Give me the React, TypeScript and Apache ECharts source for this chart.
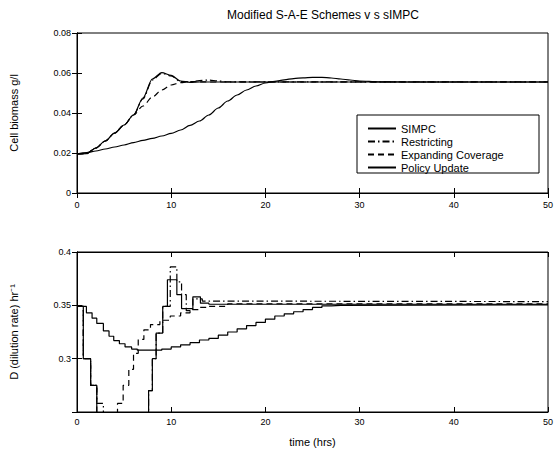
import React, { useEffect, useRef } from "react";
import * as echarts from "echarts";

const TITLE = "Modified S-A-E Schemes v s sIMPC";
const SERIES_NAMES = ["SIMPC", "Restricting", "Expanding Coverage", "Policy Update"];
const X_TICKS = [0, 10, 20, 30, 40, 50];
const TOP_Y_TICKS = [0, 0.02, 0.04, 0.06, 0.08];
const BOTTOM_Y_TICKS = [0.25, 0.3, 0.35, 0.4];

// Top plot: biomass
const tTop = [0, 1, 2, 3, 4, 5, 6, 7, 8, 9, 10, 11, 12, 13, 14, 15, 16, 17, 18, 19, 20, 21, 22, 23, 24, 25, 26, 27, 28, 29, 30, 32, 35, 40, 45, 50];
const topSimpc = [0.0195, 0.0197, 0.0225, 0.026, 0.030, 0.034, 0.039, 0.0475, 0.057, 0.0602, 0.0588, 0.056, 0.0553, 0.0555, 0.0555, 0.0555, 0.0555, 0.0555, 0.0555, 0.0555, 0.0555, 0.0555, 0.0555, 0.0555, 0.0555, 0.0555, 0.0555, 0.0555, 0.0555, 0.0555, 0.0555, 0.0555, 0.0555, 0.0555, 0.0555, 0.0555];
const topRestricting = [0.0195, 0.0197, 0.0225, 0.026, 0.030, 0.034, 0.039, 0.047, 0.0565, 0.0598, 0.0585, 0.0557, 0.0556, 0.0562, 0.0565, 0.056, 0.0556, 0.0556, 0.0556, 0.0556, 0.0556, 0.0556, 0.0556, 0.0556, 0.0556, 0.0556, 0.0556, 0.0556, 0.0556, 0.0556, 0.0556, 0.0556, 0.0556, 0.0556, 0.0556, 0.0556];
const topExpanding = [0.0195, 0.0197, 0.0225, 0.026, 0.030, 0.034, 0.039, 0.0435, 0.048, 0.0515, 0.054, 0.0552, 0.0557, 0.0556, 0.0555, 0.0555, 0.0555, 0.0555, 0.0555, 0.0555, 0.0555, 0.0555, 0.0555, 0.0555, 0.0555, 0.0555, 0.0555, 0.0555, 0.0555, 0.0555, 0.0555, 0.0555, 0.0555, 0.0555, 0.0555, 0.0555];
const topPolicy = [0.0195, 0.0202, 0.021, 0.022, 0.023, 0.024, 0.0252, 0.0263, 0.0273, 0.0285, 0.0298, 0.0315, 0.0338, 0.036, 0.039, 0.0425, 0.046, 0.049, 0.0515, 0.0535, 0.055, 0.0558, 0.0566, 0.0572, 0.0576, 0.0578, 0.0578, 0.0575, 0.057, 0.0565, 0.056, 0.0556, 0.0555, 0.0555, 0.0555, 0.0555];

// Bottom plot: dilution rate (stepped, value held until next time)
const tSimpc = [0, 0.67, 1.45, 2.1, 7.6, 8.0, 8.4, 9.1, 9.6, 10.6, 11.1, 12.3, 13.1, 14, 50];
const dSimpc = [0.349, 0.300, 0.275, 0.2, 0.27, 0.30, 0.324, 0.349, 0.374, 0.36, 0.347, 0.358, 0.352, 0.351, 0.351];
const tRestricting = [0, 0.67, 1.45, 2.1, 2.8, 7.6, 8.0, 8.4, 9.1, 9.9, 10.6, 11.1, 11.6, 12.3, 13.3, 14, 50];
const dRestricting = [0.349, 0.300, 0.275, 0.258, 0.2, 0.27, 0.30, 0.324, 0.349, 0.386, 0.372, 0.36, 0.345, 0.356, 0.354, 0.3535, 0.3535];
const tExpanding = [0, 0.67, 1.45, 2.1, 4.3, 4.9, 5.5, 6.0, 6.5, 7.1, 7.8, 8.8, 9.9, 11, 12, 13, 14, 16, 50];
const dExpanding = [0.349, 0.300, 0.275, 0.2, 0.258, 0.275, 0.29, 0.305, 0.318, 0.327, 0.332, 0.336, 0.340, 0.343, 0.346, 0.348, 0.349, 0.3515, 0.3515];
const tPolicy = [0, 1.0, 1.6, 2.1, 2.8, 3.4, 3.9, 4.5, 5.1, 5.8, 6.4, 9, 10, 11, 12, 13, 14, 15, 16, 17, 18, 19, 20, 21, 22, 23, 24, 25, 26, 27, 28, 50];
const dPolicy = [0.349, 0.343, 0.338, 0.333, 0.326, 0.321, 0.317, 0.314, 0.311, 0.309, 0.308, 0.309, 0.311, 0.313, 0.315, 0.3175, 0.319, 0.322, 0.325, 0.328, 0.331, 0.334, 0.337, 0.340, 0.342, 0.344, 0.346, 0.348, 0.3495, 0.350, 0.3505, 0.3505];

const zip = (xs: number[], ys: number[]) => xs.map((x, i) => [x, ys[i]]);

const FONT = "Liberation Sans";
const DASHES: any[] = ["solid", [7, 3, 1.5, 3], [6, 4], "solid"];

export default function App() {
  const ref = useRef<HTMLDivElement>(null);
  useEffect(() => {
    if (!ref.current) return;
    const chart = echarts.init(ref.current, undefined, { renderer: "svg" });
    const axisCommon = {
      axisLine: { show: true, lineStyle: { color: "#000", width: 1 } },
      axisTick: { show: true, inside: true, length: 5, lineStyle: { color: "#000" } },
      splitLine: { show: false },
      axisLabel: { color: "#000", fontSize: 9, fontFamily: FONT },
    };
    const mirror = (o: any) => ({ ...o, ...axisCommon, axisLabel: { show: false } });
    const xTop = { type: "value", min: X_TICKS[0], max: X_TICKS[X_TICKS.length - 1], interval: 10 };
    const yTop = { type: "value", min: TOP_Y_TICKS[0], max: TOP_Y_TICKS[TOP_Y_TICKS.length - 1], interval: 0.02 };
    const yBot = { type: "value", min: BOTTOM_Y_TICKS[0], max: BOTTOM_Y_TICKS[BOTTOM_Y_TICKS.length - 1], interval: 0.05 };
    const line = (name: string, idx: number, data: any[], axis: number, step: boolean) => ({
      type: "line",
      name,
      data,
      xAxisIndex: axis,
      yAxisIndex: axis,
      showSymbol: false,
      symbol: "none",
      step: step ? "end" : false,
      smooth: step ? false : 0.3,
      smoothMonotone: "x",
      clip: true,
      color: "#000",
      lineStyle: { color: "#000", width: 1.2, type: DASHES[idx] },
    });
    chart.setOption({
      animation: false,
      backgroundColor: "#fff",
      title: {
        text: TITLE,
        left: 318,
        top: 4,
        textAlign: "center",
        textStyle: { fontSize: 12, fontWeight: "normal", color: "#000", fontFamily: FONT },
      },
      grid: [
        { left: 77, top: 33, width: 471, height: 160, show: true, borderColor: "#000", borderWidth: 1, backgroundColor: "transparent" },
        { left: 77, top: 252, width: 471, height: 160, show: true, borderColor: "#000", borderWidth: 1, backgroundColor: "transparent" },
      ],
      xAxis: [
        { ...xTop, ...axisCommon, gridIndex: 0, position: "bottom", axisLabel: { ...axisCommon.axisLabel, margin: 7 } },
        mirror({ ...xTop, gridIndex: 0, position: "top" }),
        {
          ...xTop, ...axisCommon, gridIndex: 1, position: "bottom",
          axisLabel: { ...axisCommon.axisLabel, margin: 5 },
          name: "time (hrs)", nameLocation: "middle", nameGap: 24,
          nameTextStyle: { fontSize: 11, color: "#000", fontFamily: FONT },
        },
        mirror({ ...xTop, gridIndex: 1, position: "top" }),
      ],
      yAxis: [
        {
          ...yTop, ...axisCommon, gridIndex: 0, position: "left",
          axisLabel: { ...axisCommon.axisLabel, margin: 6 },
          name: "Cell biomass g/l", nameLocation: "middle", nameGap: 58,
          nameTextStyle: { fontSize: 11, color: "#000", fontFamily: FONT },
        },
        mirror({ ...yTop, gridIndex: 0, position: "right" }),
        {
          ...yBot, ...axisCommon, gridIndex: 1, position: "left",
          axisLabel: {
            ...axisCommon.axisLabel, margin: 6,
            formatter: (v: number) => (Math.abs(v - BOTTOM_Y_TICKS[0]) < 1e-9 ? "" : String(+v.toFixed(2))),
          },
          name: "D (dilution rate) hr\u207B\u00B9", nameLocation: "middle", nameGap: 58,
          nameTextStyle: { fontSize: 11, color: "#000", fontFamily: FONT },
        },
        mirror({ ...yBot, gridIndex: 1, position: "right" }),
      ],
      graphic: [
        {
          type: "rect",
          z: 3,
          shape: { x: 357, y: 115, width: 182, height: 58 },
          style: { fill: "#fff", stroke: "#000", lineWidth: 1 },
        },
      ],
      legend: {
        z: 10,
        left: 362,
        top: 118,
        orient: "vertical",
        itemGap: 2,
        itemWidth: 28,
        itemHeight: 11,
        data: SERIES_NAMES,
        itemStyle: { opacity: 0 },
        textStyle: { fontSize: 11, color: "#000", fontFamily: FONT },
      },
      series: [
        line(SERIES_NAMES[0], 0, zip(tTop, topSimpc), 0, false),
        line(SERIES_NAMES[1], 1, zip(tTop, topRestricting), 0, false),
        line(SERIES_NAMES[2], 2, zip(tTop, topExpanding), 0, false),
        line(SERIES_NAMES[3], 3, zip(tTop, topPolicy), 0, false),
        line(SERIES_NAMES[0], 0, zip(tSimpc, dSimpc), 2, true),
        line(SERIES_NAMES[1], 1, zip(tRestricting, dRestricting), 2, true),
        line(SERIES_NAMES[2], 2, zip(tExpanding, dExpanding), 2, true),
        line(SERIES_NAMES[3], 3, zip(tPolicy, dPolicy), 2, true),
      ],
    });
    return () => chart.dispose();
  }, []);
  return <div ref={ref} style={{ position: "fixed", left: 0, top: 0, width: 558, height: 452 }} />;
}
